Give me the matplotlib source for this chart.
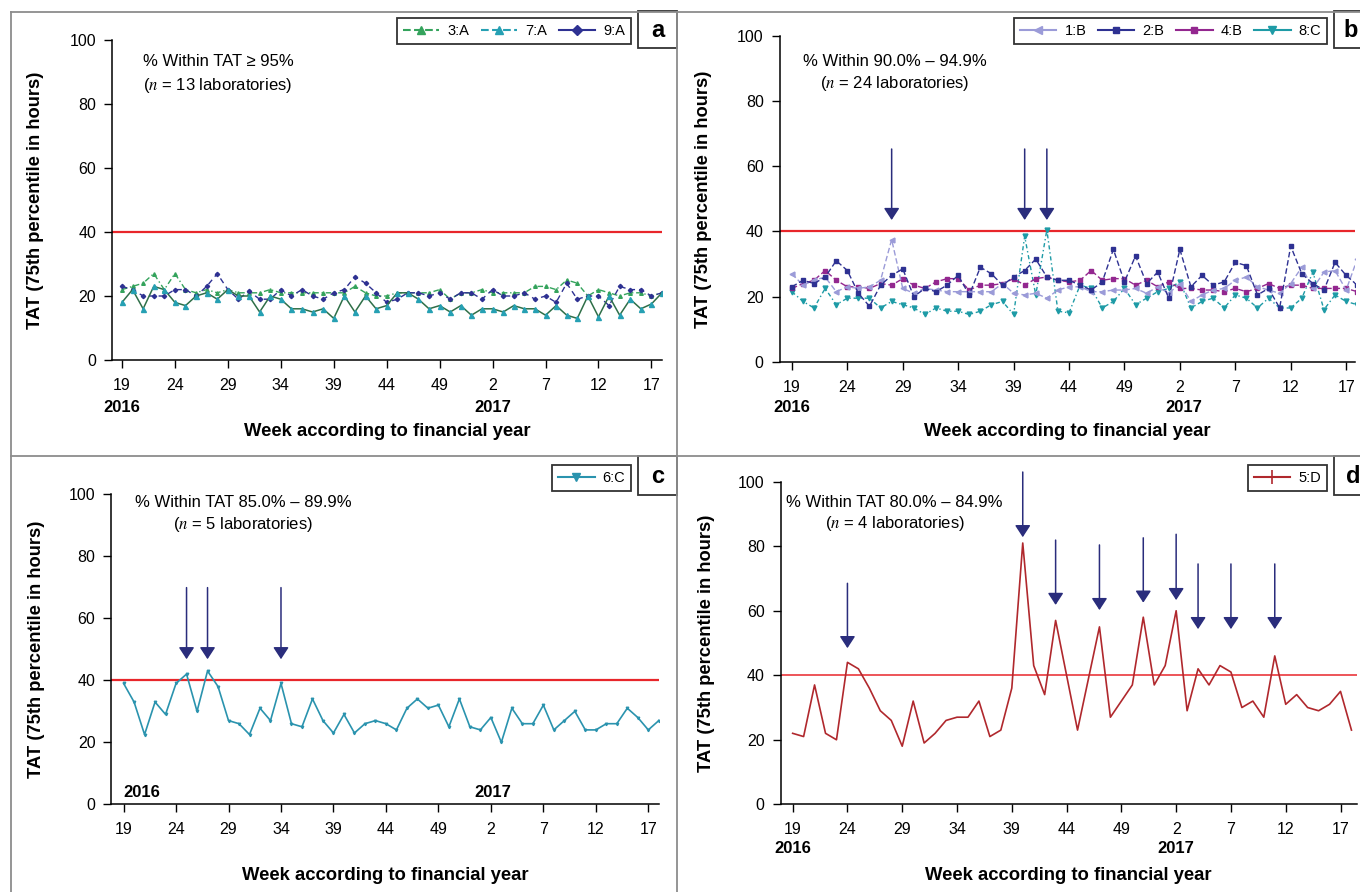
import numpy as np
import matplotlib
matplotlib.use("Agg")
import matplotlib.pyplot as plt
from matplotlib.lines import Line2D
from matplotlib.patches import Rectangle

plt.rcParams['font.family'] = ['Liberation Sans', 'DejaVu Sans']
plt.rcParams['mathtext.fontset'] = 'stix'

# weeks of the financial year (2016 wk 19 .. 2017 wk 18)
weeks = list(range(19, 53)) + list(range(1, 19))
tick_pos = list(range(0, 52, 5))
tick_lab = [str(weeks[i]) for i in tick_pos]
x = np.arange(len(weeks))

# panel a : >= 95 %
lab_3A = [22, 23, 24, 27, 22, 27, 22, 21, 22, 21, 22, 21, 21, 21, 22, 21, 21, 21, 21, 21, 21, 21, 23, 21, 20,
          20, 21, 21, 21, 21, 22, 19, 21, 21, 22, 21, 21, 21, 21, 23, 23, 22, 25, 24, 20, 22, 21, 20, 21, 21, 20, 21]
lab_7A = [18, 22, 16, 23, 22, 18, 17, 20, 21, 19, 22, 20, 20, 15, 20, 19, 16, 16, 15, 16, 13, 20, 15, 20, 16,
          17, 21, 21, 19, 16, 17, 15, 17, 14, 16, 16, 15, 17, 16, 16, 14, 17, 14, 13, 20, 13.5, 20, 14, 19, 16, 17.5, 21]
lab_9A = [23, 22, 20, 20, 20, 22, 22, 20, 23, 27, 22, 19, 21.5, 19, 19, 22, 20, 22, 20, 19, 21, 22, 26, 24, 21,
          18, 19, 21, 21, 20, 21, 19, 21, 21, 19, 22, 20, 20, 21, 19, 20, 18, 24, 19, 20, 20, 17, 23, 22, 22, 20, 21]

# panel b : 90.0 - 94.9 %
lab_1B = [27, 23.5, 25, 26, 21.5, 23, 22.5, 23, 25, 37.5, 22.5, 21, 22.5, 22, 21.5, 21.5, 21.5, 21.5, 21.5, 24, 21,
          20.5, 21, 19.5, 22, 23, 23, 21.5, 21.5, 22, 22, 22.5, 21, 23, 21, 24, 18.5, 20.5, 22, 22.5, 25, 26, 23, 22,
          21, 24, 29, 22.5, 27.5, 28, 22, 31.5]
lab_2B = [23, 25, 24, 26, 31, 28, 21, 17, 23.5, 26.5, 28.5, 20, 22.5, 21.5, 23.5, 26.5, 20.5, 29, 27, 23.5, 26, 28,
          31.5, 26, 25, 25, 23.5, 22, 24.5, 34.5, 24.5, 32.5, 24, 27.5, 19.5, 34.5, 23, 26.5, 23.5, 24.5, 30.5, 29.5,
          20.5, 22.5, 16.5, 35.5, 27, 24, 22, 30.5, 26.5, 23.5]
lab_4B = [22.5, 24, 25, 28, 25, 23, 23, 22.5, 24, 23.5, 25.5, 23.5, 22.5, 24.5, 25.5, 25.5, 22, 23.5, 23.5, 24, 25.5,
          23.5, 25.5, 26, 25, 24.5, 25, 28, 25, 25.5, 25.5, 23.5, 25, 23, 24.5, 22.5, 22.5, 22, 22, 21.5, 22.5, 21.5,
          22.5, 24, 22.5, 23.5, 23.5, 22.5, 22.5, 22.5, 22.5, 21.5]
lab_8C = [21.5, 18.5, 16.5, 22.5, 17.5, 19.5, 19.5, 19.5, 16.5, 18.5, 17.5, 16.5, 14.5, 16.5, 15.5, 15.5, 14.5, 15.5,
          17.5, 18.5, 14.5, 38.5, 20.5, 40.5, 15.5, 15, 23.5, 22.5, 16.5, 18.5, 22.5, 17.5, 19.5, 21.5, 22.5, 24.5,
          16.5, 18.5, 19.5, 16.5, 20.5, 19.5, 16.5, 19.5, 16.5, 16.5, 19.5, 27.5, 16, 20.5, 18.5, 17.5]

# panel c : 85.0 - 89.9 %
lab_6C = [39, 33, 22.5, 33, 29, 39, 42, 30, 43, 38, 27, 26, 22.5, 31, 27, 39, 26, 25, 34, 27, 23, 29, 23, 26, 27,
          26, 24, 31, 34, 31, 32, 25, 34, 25, 24, 28, 20, 31, 26, 26, 32, 24, 27, 30, 24, 24, 26, 26, 31, 28, 24, 27]

# panel d : 80.0 - 84.9 %
lab_5D = [22, 21, 37, 22, 20, 44, 42, 36, 29, 26, 18, 32, 19, 22, 26, 27, 27, 32, 21, 23, 36, 81, 43, 34, 57, 40,
          23, 39, 55, 27, 32, 37, 58, 37, 43, 60, 29, 42, 37, 43, 41, 30, 32, 27, 46, 31, 34, 30, 29, 31, 35, 23]

TARGET = 40

RED = '#e8262b'
NAVY = '#2e3192'
ARROW = '#2a2d7c'
GREEN = '#34a35c'
DKGREEN = '#2f6f48'
TEAL = '#26a0b3'
LAV = '#9b9bd8'
PURPLE = '#93278f'
TEAL_B = '#1e9ba6'
TEAL_C = '#2a93ae'
DRED = '#b0282d'

fig = plt.figure(figsize=(13.6, 8.92), dpi=100)


def fx(px):
    return px / 1360


def fy(py):
    return 1 - py / 892


def make_axes(rect, xlim, red_lw=1.6):
    ax = fig.add_axes(rect)
    ax.set_xlim(*xlim)
    ax.set_ylim(0, 100)
    for s in ['top', 'right']:
        ax.spines[s].set_visible(False)
    for s in ['left', 'bottom']:
        ax.spines[s].set_linewidth(1.1)
    ax.set_xticks(tick_pos, tick_lab)
    ax.set_yticks(range(0, 101, 20))
    ax.tick_params(axis='both', length=6, width=1.0, labelsize=11.5)
    ax.tick_params(axis='x', pad=7)
    ax.tick_params(axis='y', pad=5.5)
    ax.axhline(TARGET, color=RED, lw=red_lw, zorder=1)
    ax.set_ylabel('TAT (75th percentile in hours)', fontsize=13.2, fontweight='bold')
    ax.set_xlabel('Week according to financial year', fontsize=13.3, fontweight='bold')
    return ax


def arrows(ax, specs):
    for xi, tip, top in specs:
        ax.annotate('', xy=(xi, tip), xytext=(xi, top), annotation_clip=False,
                    arrowprops=dict(arrowstyle='-|>,head_length=0.36,head_width=0.235',
                                    mutation_scale=20, color=ARROW, lw=1.1,
                                    shrinkA=0, shrinkB=0))


def legend(ax, handles, labels, right, top):
    lg = ax.legend(handles, labels, loc='upper right', bbox_to_anchor=(fx(right), fy(top)),
                   bbox_transform=fig.transFigure, ncol=len(handles), fontsize=10.5,
                   frameon=True, fancybox=False, framealpha=1, edgecolor='#333333',
                   borderpad=0.4, handlelength=2.5, handletextpad=0.55, columnspacing=0.8,
                   borderaxespad=0, numpoints=1)
    lg.get_frame().set_linewidth(1.3)


# ---------------- panel a
ax = make_axes([fx(112), fy(360), fx(550), 320 / 892], (-0.94, 51.0))
ax.plot(x, lab_3A, color=GREEN, lw=1.0, dashes=(4, 2, 1, 2), marker='^', ms=2.6, zorder=3)
ax.plot(x, lab_9A, color=NAVY, lw=1.0, dashes=(4, 3), marker='D', ms=2.2, zorder=3)
ax.plot(x, lab_7A, color=DKGREEN, lw=1.1, marker='^', ms=3.6, mfc=TEAL, mec=TEAL, zorder=4)
ax.text(0.056, 0.932, '% Within TAT \u2265 95%', transform=ax.transAxes, fontsize=12, va='center')
ax.text(0.056, 0.858, '($n$ = 13 laboratories)', transform=ax.transAxes, fontsize=12, va='center')
for xi, yr in [(0, '2016'), (35, '2017')]:
    ax.text(xi, -0.15, yr, transform=ax.get_xaxis_transform(), ha='center', va='center',
            fontsize=12, fontweight='bold')
ax.yaxis.set_label_coords(-0.124, 0.5)
ax.xaxis.set_label_coords(0.5, -0.196)
legend(ax, [Line2D([], [], color=GREEN, ls='--', marker='^', ms=6),
            Line2D([], [], color=TEAL, ls='--', marker='^', ms=6),
            Line2D([], [], color=NAVY, ls='-', marker='D', ms=5)],
       ['3:A', '7:A', '9:A'], 631, 18.3)

# ---------------- panel b
ax = make_axes([fx(779.7), fy(361.7), fx(575.3), 325.7 / 892], (-1.1, 50.8))
ax.plot(x, lab_8C, color=TEAL_B, lw=1.0, dashes=(3, 2, 1, 2), marker='v', ms=3.5, zorder=3)
ax.plot(x, lab_4B, color=PURPLE, lw=1.0, dashes=(4, 2), marker='s', ms=2.5, zorder=3)
ax.plot(x, lab_1B, color=LAV, lw=1.0, dashes=(4, 2), marker='<', ms=3.5, zorder=3)
ax.plot(x, lab_2B, color=NAVY, lw=1.0, dashes=(4, 2), marker='s', ms=3, zorder=4)
ax.text(0.1995, 0.921, '% Within 90.0% \u2013 94.9%', transform=ax.transAxes, fontsize=12,
        ha='center', va='center')
ax.text(0.1995, 0.855, '($n$ = 24 laboratories)', transform=ax.transAxes, fontsize=12,
        ha='center', va='center')
for xi, yr in [(0, '2016'), (35.4, '2017')]:
    ax.text(xi, -0.142, yr, transform=ax.get_xaxis_transform(), ha='center', va='center',
            fontsize=12, fontweight='bold')
ax.yaxis.set_label_coords(-0.118, 0.5)
ax.xaxis.set_label_coords(0.5, -0.187)
arrows(ax, [(9, 43.5, 65.3), (21, 43.5, 65.3), (23, 43.5, 65.3)])
legend(ax, [Line2D([], [], color=LAV, marker='<', ms=6),
            Line2D([], [], color=NAVY, marker='s', ms=5),
            Line2D([], [], color=PURPLE, marker='s', ms=5),
            Line2D([], [], color=TEAL_B, marker='v', ms=6)],
       ['1:B', '2:B', '4:B', '8:C'], 1327, 18.3)

# ---------------- panel c
ax = make_axes([fx(111.4), fy(804.3), fx(547.8), 310 / 892], (-1.16, 51.04))
ax.plot(x, lab_6C, color=TEAL_C, lw=1.2, marker='v', ms=1.8, zorder=3)
ax.text(0.241, 0.974, '% Within TAT 85.0% \u2013 89.9%', transform=ax.transAxes, fontsize=12,
        ha='center', va='center')
ax.text(0.241, 0.904, '($n$ = 5 laboratories)', transform=ax.transAxes, fontsize=12,
        ha='center', va='center')
for xi, yr in [(1.7, '2016'), (35.2, '2017')]:
    ax.text(xi, 3.7, yr, ha='center', va='center', fontsize=12, fontweight='bold')
ax.yaxis.set_label_coords(-0.121, 0.5)
ax.xaxis.set_label_coords(0.5, -0.202)
arrows(ax, [(6, 46.8, 69.9), (8, 46.8, 69.9), (15, 46.8, 69.9)])
legend(ax, [Line2D([], [], color=TEAL_C, marker='v', ms=6)], ['6:C'], 631, 465)

# ---------------- panel d
ax = make_axes([fx(780.6), fy(804.3), fx(575.9), 322.6 / 892], (-1.1, 51.46), red_lw=1.1)
ax.plot(x, lab_5D, color=DRED, lw=1.2, zorder=3)
ax.text(0.198, 0.936, '% Within TAT 80.0% \u2013 84.9%', transform=ax.transAxes, fontsize=12,
        ha='center', va='center')
ax.text(0.198, 0.869, '($n$ = 4 laboratories)', transform=ax.transAxes, fontsize=12,
        ha='center', va='center')
for xi, yr in [(0, '2016'), (35, '2017')]:
    ax.text(xi, -0.136, yr, transform=ax.get_xaxis_transform(), ha='center', va='center',
            fontsize=12, fontweight='bold')
ax.yaxis.set_label_coords(-0.114, 0.5)
ax.xaxis.set_label_coords(0.5, -0.194)
arrows(ax, [(5, 48.4, 68.5), (21, 82.8, 103), (24, 61.8, 81.9), (28, 60.2, 80.4),
            (32, 62.5, 82.6), (35, 63.3, 83.7), (37, 54.3, 74.5), (40, 54.3, 74.5), (44, 54.3, 74.5)])
legend(ax, [Line2D([], [], color=DRED, marker='|', ms=10, mew=1.2)], ['5:D'], 1327, 465)

# ---------------- panel frames and letters
GREY = '#8c8c8c'
for xs, ys in [([10.8, 1360], [11.5, 11.5]), ([10.8, 10.8], [11.5, 892]),
               ([676.5, 676.5], [11.5, 892]), ([10.8, 1360], [456, 456])]:
    fig.add_artist(Line2D([fx(v) for v in xs], [fy(v) for v in ys], transform=fig.transFigure,
                          color=GREY, lw=1.3))

for x0, x1, y0, y1, letter, lx, ha in [(638.3, 676.5, 11.5, 48.3, 'a', 657.4, 'center'),
                                       (1334, 1370, 11.5, 48.3, 'b', 1343.5, 'left'),
                                       (638.3, 676.5, 456, 495, 'c', 657.4, 'center'),
                                       (1334, 1370, 456, 495, 'd', 1345.6, 'left')]:
    fig.add_artist(Rectangle((fx(x0), fy(y1)), fx(x1 - x0), (y1 - y0) / 892, transform=fig.transFigure,
                             facecolor='white', edgecolor='#333333', lw=1.3))
    fig.text(fx(lx), fy((y0 + y1) / 2 + 1), letter, ha=ha, va='center', fontsize=17, fontweight='bold')

fig.savefig('out.png', dpi=100)
